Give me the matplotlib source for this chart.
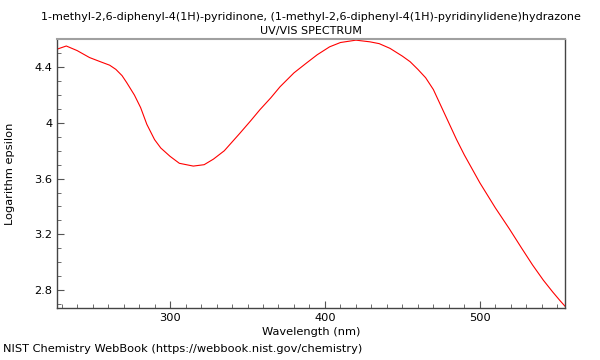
import matplotlib
matplotlib.use('Agg')
import matplotlib.pyplot as plt
from matplotlib.ticker import MultipleLocator

# wavelength (nm) and log(epsilon)
wavelength = [227, 233, 240, 248, 255, 261, 265, 269, 272, 277, 281, 285, 290,
              294, 300, 306, 315, 322, 328, 335, 345, 352, 358, 365, 371, 380,
              388, 395, 403, 410, 420, 429, 435, 442, 450, 455, 460, 465, 470,
              475, 480, 485, 490, 497, 500, 510, 519, 527, 534, 541, 547, 552,
              555]
log_eps = [4.53, 4.553, 4.52, 4.47, 4.44, 4.415, 4.385, 4.34, 4.29, 4.20, 4.11,
           3.99, 3.88, 3.82, 3.76, 3.71, 3.69, 3.70, 3.74, 3.80, 3.925, 4.015,
           4.095, 4.18, 4.26, 4.36, 4.43, 4.49, 4.547, 4.578, 4.595, 4.583,
           4.57, 4.536, 4.48, 4.44, 4.385, 4.325, 4.24, 4.12, 4.00, 3.88, 3.77,
           3.63, 3.57, 3.39, 3.24, 3.10, 2.98, 2.87, 2.786, 2.72, 2.683]

title = ("1-methyl-2,6-diphenyl-4(1H)-pyridinone, "
         "(1-methyl-2,6-diphenyl-4(1H)-pyridinylidene)hydrazone\nUV/VIS SPECTRUM")

plt.rcParams['font.family'] = ['DejaVu Sans']
fig = plt.figure(figsize=(6, 3.6), dpi=100)
ax = fig.add_axes([0.095, 0.1444, 0.8467, 0.746])

ax.plot(wavelength, log_eps, c='red', linewidth=0.8)
ax.set_xlim(227, 555)
ax.set_ylim(2.67, 4.60)

ax.xaxis.set_major_locator(MultipleLocator(100))
ax.xaxis.set_minor_locator(MultipleLocator(10))
ax.yaxis.set_major_locator(MultipleLocator(0.4))
ax.yaxis.set_minor_locator(MultipleLocator(0.1))
ax.yaxis.set_major_formatter(plt.FuncFormatter(lambda v, p: ('%.1f' % v).rstrip('0').rstrip('.')))

ax.tick_params(which='both', direction='in', top=False, right=False,
               labelsize=8.2, color='#555555')
ax.tick_params(which='major', length=5)
ax.tick_params(which='minor', length=3)

for s in ['left', 'bottom', 'right']:
    ax.spines[s].set_color('#444444')
    ax.spines[s].set_linewidth(1.0)
ax.spines['top'].set_color('#a0a0a0')
ax.spines['top'].set_linewidth(1.5)

ax.set_xlabel('Wavelength (nm)', fontsize=8.2, labelpad=3)
ax.set_ylabel('Logarithm epsilon', fontsize=8.2, labelpad=14)
ax.set_title(title, fontsize=8, linespacing=1.5, pad=4)
fig.text(0.005, 0.022, 'NIST Chemistry WebBook (https://webbook.nist.gov/chemistry)',
         fontsize=8.2)

fig.savefig('out.png', dpi=100)
